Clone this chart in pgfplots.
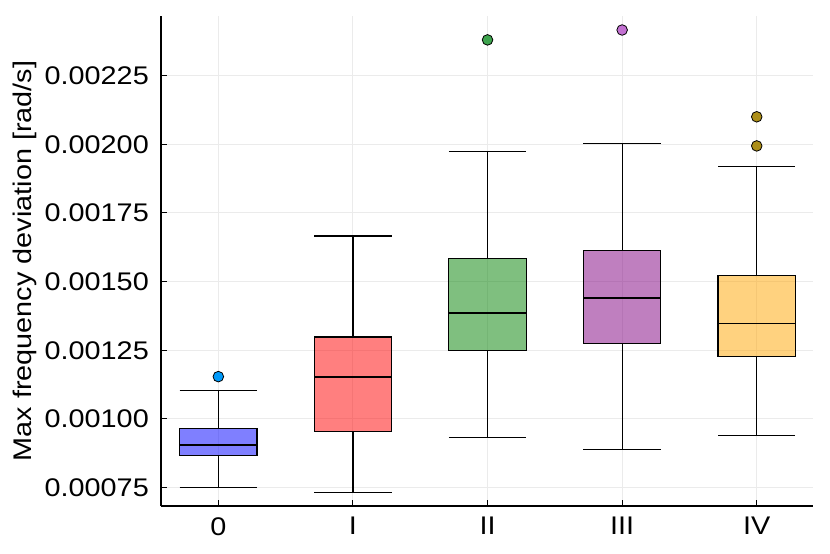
\documentclass[border=0pt]{standalone}
\usepackage{fontspec}
\setmainfont{Liberation Sans}[FakeStretch=1.13]
\usepackage{pgfplots}
\pgfplotsset{compat=1.18}
\usepgfplotslibrary{statistics}
\definecolor{o1}{HTML}{009AFA}
\definecolor{o3}{HTML}{3EA44E}
\definecolor{o4}{HTML}{C371D2}
\definecolor{o5}{HTML}{AC8E18}
\definecolor{b0}{HTML}{0000FF}
\definecolor{b1}{HTML}{FF0000}
\definecolor{b2}{HTML}{008000}
\definecolor{b3}{HTML}{800080}
\definecolor{b4}{HTML}{FFA500}
% values in units of 1e-5 rad/s
\begin{document}
\begin{tikzpicture}
\begin{axis}[
  at={(0,0)}, anchor=south west,
  scale only axis, width=652bp, height=490bp,
  xmin=-0.426, xmax=4.418, ymin=68.3, ymax=246.7,
  axis x line=bottom, axis y line=left,
  axis line style={-, line width=1.3bp, black},
  tick align=inside, major tick length=6bp,
  tick style={line width=1.1bp, black},
  xtick={0,1,2,3,4}, xticklabels={0,I,II,III,IV},
  ytick={75,100,125,150,175,200,225},
  yticklabels={0.00075,0.00100,0.00125,0.00150,0.00175,0.00200,0.00225},
  ticklabel style={font=\fontsize{25.5bp}{30bp}\selectfont, inner sep=0pt},
  yticklabel style={anchor=east, xshift=-12bp},
  xticklabel style={anchor=north, yshift=-11bp},
  grid=major, major grid style={line width=1bp, black!8},
  ylabel={Max frequency deviation [rad/s]},
  ylabel style={at={([xshift=-148bp]axis description cs:0,0.5)}, anchor=north, inner sep=0pt, font=\fontsize{25.5bp}{30bp}\selectfont},
  boxplot/box extend=0.575, boxplot/whisker extend=0.575,
  boxplot/draw direction=y,
  every boxplot/.style={line width=1.2bp},
]
\addplot[draw=black, line width=1.2bp, fill=b0, fill opacity=0.5, mark=*, mark size=5.3bp, mark options={solid, fill=o1, fill opacity=1, draw=black, line width=0.8bp},
  boxplot prepared={draw position=0, lower whisker=75.1, lower quartile=86.8, median=90.5, upper quartile=96.6, upper whisker=110.3}]
  table[row sep=\\, y index=0] {v\\ 115.4\\};
\addplot[draw=black, line width=1.2bp, fill=b1, fill opacity=0.5,
  boxplot prepared={draw position=1, lower whisker=73.3, lower quartile=95.5, median=115.3, upper quartile=129.8, upper whisker=166.6}]
  coordinates {};
\addplot[draw=black, line width=1.2bp, fill=b2, fill opacity=0.5, mark=*, mark size=5.3bp, mark options={solid, fill=o3, fill opacity=1, draw=black, line width=0.8bp},
  boxplot prepared={draw position=2, lower whisker=93.2, lower quartile=125.0, median=138.6, upper quartile=158.4, upper whisker=197.5}]
  table[row sep=\\, y index=0] {v\\ 238.0\\};
\addplot[draw=black, line width=1.2bp, fill=b3, fill opacity=0.5, mark=*, mark size=5.3bp, mark options={solid, fill=o4, fill opacity=1, draw=black, line width=0.8bp},
  boxplot prepared={draw position=3, lower whisker=88.8, lower quartile=127.4, median=144.0, upper quartile=161.3, upper whisker=200.2}]
  table[row sep=\\, y index=0] {v\\ 241.6\\};
\addplot[draw=black, line width=1.2bp, fill=b4, fill opacity=0.5, mark=*, mark size=5.3bp, mark options={solid, fill=o5, fill opacity=1, draw=black, line width=0.8bp},
  boxplot prepared={draw position=4, lower whisker=93.9, lower quartile=122.8, median=134.8, upper quartile=152.3, upper whisker=191.8}]
  table[row sep=\\, y index=0] {v\\ 210.0\\ 199.4\\};
\end{axis}
\pgfresetboundingbox
\useasboundingbox (-161bp,-48bp) rectangle (669bp,506bp);
\end{tikzpicture}
\end{document}
